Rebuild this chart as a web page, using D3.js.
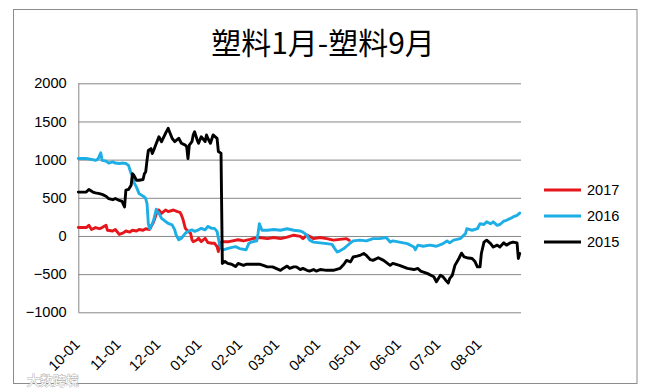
<!DOCTYPE html>
<html><head><meta charset="utf-8">
<script src="https://cdn.jsdelivr.net/npm/d3@7/dist/d3.min.js"></script>
<style>body{margin:0;background:#fff}svg{display:block}</style>
</head><body><svg id="c" width="665" height="391"></svg>
<script>
const chartTitle = "塑料1月-塑料9月";
const seriesNames = ["2017", "2016", "2015"];
const seriesColors = ["#E5161C", "#1DAEE5", "#000000"];
const yTicks = [-1000, -500, 0, 500, 1000, 1500, 2000];
const xTickLabels = ["10-01","11-01","12-01","01-01","02-01","03-01","04-01","05-01","06-01","07-01","08-01"];
const xDomain = ["10-01", "09-01"];
const watermark = "大数跨境";

const s2017 = [["10-01",110],["10-07",110],["10-09",140],["10-11",85],["10-14",110],["10-17",95],["10-19",110],["10-22",140],["10-23",75],["10-27",65],["10-29",85],["11-01",20],["11-04",40],["11-06",65],["11-09",50],["11-11",75],["11-14",65],["11-16",85],["11-19",75],["11-21",95],["11-24",85],["11-25",120],["11-27",185],["11-30",335],["12-01",340],["12-03",295],["12-06",340],["12-08",320],["12-12",340],["12-15",320],["12-17",310],["12-18",275],["12-19",230],["12-21",100],["12-22",80],["12-25",35],["12-26",-50],["12-27",-75],["12-30",-50],["12-31",-30],["01-02",-75],["01-05",-30],["01-07",-85],["01-10",-95],["01-12",-95],["01-14",-140],["01-15",-205],["01-16",-95],["01-18",-75],["01-23",-75],["01-30",-50],["02-03",-65],["02-08",-45],["02-10",-35],["02-15",-20],["02-21",-35],["02-26",-20],["03-03",-35],["03-08",-15],["03-13",10],["03-18",-5],["03-20",-35],["03-23",10],["03-25",-5],["03-28",-35],["04-02",-20],["04-07",-35],["04-12",-55],["04-17",-45],["04-22",-35],["04-24",-55]];

const s2016 = [["10-01",1015],["10-07",1015],["10-12",1000],["10-14",990],["10-16",1010],["10-18",1090],["10-19",990],["10-22",980],["10-24",955],["10-27",970],["10-29",955],["11-01",950],["11-04",955],["11-06",950],["11-08",925],["11-10",815],["11-11",795],["11-12",705],["11-14",640],["11-16",555],["11-20",510],["11-21",490],["11-22",425],["11-23",160],["11-24",95],["11-26",160],["11-27",205],["11-29",350],["11-30",310],["12-01",300],["12-03",230],["12-06",190],["12-08",165],["12-11",145],["12-13",80],["12-14",15],["12-16",-50],["12-18",-30],["12-21",35],["12-23",60],["12-26",80],["12-28",60],["12-31",80],["01-02",100],["01-05",80],["01-07",125],["01-10",100],["01-12",100],["01-14",60],["01-15",-30],["01-16",-120],["01-18",-185],["01-23",-160],["01-28",-140],["01-31",-165],["02-05",-180],["02-07",-100],["02-09",-80],["02-13",-65],["02-14",30],["02-15",160],["02-17",75],["02-21",75],["02-26",85],["03-03",75],["03-08",95],["03-13",75],["03-18",65],["03-20",50],["03-23",10],["03-25",-55],["03-28",-80],["04-02",-90],["04-07",-100],["04-11",-110],["04-13",-165],["04-15",-210],["04-17",-195],["04-20",-165],["04-22",-135],["04-25",-90],["04-27",-65],["05-02",-55],["05-07",-65],["05-12",-35],["05-17",-35],["05-22",-20],["05-25",-80],["05-27",-65],["06-01",-80],["06-07",-100],["06-12",-145],["06-13",-180],["06-15",-120],["06-19",-135],["06-24",-120],["06-29",-135],["07-04",-100],["07-07",-65],["07-09",-90],["07-12",-55],["07-17",-35],["07-21",30],["07-22",95],["07-26",75],["07-30",95],["08-01",160],["08-04",150],["08-06",185],["08-09",160],["08-11",185],["08-14",140],["08-16",150],["08-19",195],["08-21",205],["08-24",230],["08-26",250],["08-29",270],["08-31",300]];

const s2015 = [["10-01",575],["10-07",575],["10-09",610],["10-12",575],["10-14",565],["10-17",555],["10-19",545],["10-22",520],["10-24",490],["10-27",475],["10-29",490],["11-01",465],["11-03",455],["11-05",380],["11-06",600],["11-08",610],["11-10",665],["11-11",815],["11-12",795],["11-14",730],["11-16",730],["11-19",740],["11-20",815],["11-21",840],["11-22",990],["11-23",1120],["11-25",1145],["11-26",1080],["11-27",1120],["11-29",1210],["12-01",1300],["12-03",1235],["12-06",1345],["12-08",1410],["12-09",1365],["12-11",1280],["12-13",1235],["12-16",1280],["12-18",1215],["12-21",1190],["12-22",1170],["12-23",1015],["12-24",1190],["12-26",1235],["12-27",1325],["12-28",1365],["12-30",1255],["12-31",1214],["01-02",1300],["01-05",1237],["01-06",1323],["01-07",1280],["01-09",1214],["01-11",1323],["01-14",1280],["01-15",1105],["01-17",1085],["01-18",-360],["01-20",-335],["01-22",-360],["01-25",-370],["01-28",-400],["01-30",-360],["02-03",-385],["02-05",-370],["02-10",-370],["02-15",-370],["02-18",-385],["02-21",-405],["02-25",-405],["03-03",-450],["03-05",-425],["03-08",-395],["03-10",-425],["03-13",-405],["03-15",-405],["03-18",-440],["03-20",-425],["03-23",-450],["03-25",-460],["03-28",-440],["03-30",-460],["04-02",-440],["04-07",-450],["04-12",-450],["04-17",-425],["04-20",-370],["04-22",-320],["04-25",-340],["04-27",-275],["04-30",-265],["05-02",-255],["05-05",-230],["05-07",-255],["05-10",-310],["05-12",-320],["05-16",-285],["05-20",-320],["05-25",-385],["05-27",-360],["06-01",-385],["06-07",-425],["06-12",-440],["06-15",-425],["06-17",-460],["06-22",-490],["06-27",-535],["06-29",-600],["07-02",-515],["07-04",-535],["07-06",-580],["07-08",-615],["07-09",-560],["07-11",-515],["07-13",-385],["07-16",-295],["07-18",-225],["07-20",-275],["07-22",-285],["07-26",-295],["07-28",-330],["07-30",-405],["08-01",-405],["08-02",-230],["08-04",-80],["08-06",-55],["08-09",-100],["08-11",-145],["08-14",-120],["08-16",-145],["08-19",-90],["08-21",-120],["08-24",-90],["08-26",-80],["08-29",-90],["08-30",-295],["08-31",-230]];

const seriesData = [s2017, s2016, s2015];

function parseMD(md) {
  const [m, d] = md.split("-").map(Number);
  return new Date(m >= 10 ? 2000 : 2001, m - 1, d);
}

const svg = d3.select("#c");
const FONT = "'Liberation Sans', Arial, sans-serif";
const plot = {left: 78.3, right: 521, top: 83.3, bottom: 312.3};

// outer frame
svg.append("rect").attr("x", 13.5).attr("y", 9.5).attr("width", 623.5).attr("height", 374)
  .attr("fill", "#fff").attr("stroke", "#8c8c8c").attr("stroke-width", 1);

const x = d3.scaleTime().domain(xDomain.map(parseMD)).range([plot.left, plot.right]);
const y = d3.scaleLinear().domain([d3.min(yTicks), d3.max(yTicks)]).range([plot.bottom, plot.top]);

// title
svg.append("text").attr("x", 323).attr("y", 54).attr("text-anchor", "middle")
  .attr("font-family", "'Noto Sans CJK SC', sans-serif").attr("font-size", 30)
  .attr("fill", "#000").text(chartTitle);

// y axis with gridlines
const yAxis = svg.append("g").attr("transform", `translate(${plot.left},0)`)
  .call(d3.axisLeft(y).tickValues(yTicks).tickSize(-(plot.right - plot.left)).tickPadding(11.6).tickFormat(d3.format("d")));
yAxis.select(".domain").attr("stroke", "#878787").attr("d", `M0.5,${plot.top}V${plot.bottom}`);
yAxis.selectAll(".tick line").attr("stroke", "#878787").attr("stroke-width", 1);
yAxis.selectAll(".tick text").attr("font-family", FONT).attr("font-size", 14.6).attr("fill", "#000");

// x axis labels
const xAxis = svg.append("g").attr("transform", `translate(0,${plot.bottom})`)
  .call(d3.axisBottom(x).tickValues(xTickLabels.map(parseMD)).tickSize(0).tickFormat(d3.timeFormat("%m-%d")));
xAxis.select(".domain").remove();
xAxis.selectAll(".tick text")
  .attr("font-family", FONT).attr("font-size", 14.6).attr("fill", "#000")
  .attr("text-anchor", "end").attr("dy", 0).attr("y", 0)
  .attr("transform", "translate(2,33) rotate(-45)");

// lines
const line = d3.line().x(d => x(parseMD(d[0]))).y(d => y(d[1]));
seriesData.forEach((s, i) => {
  svg.append("path").datum(s).attr("d", line).attr("fill", "none")
    .attr("stroke", seriesColors[i]).attr("stroke-width", 2.9)
    .attr("stroke-linejoin", "round").attr("stroke-linecap", "round");
});

// legend
const legendY = [190, 216, 242];
seriesNames.forEach((n, i) => {
  const g = svg.append("g").attr("transform", `translate(544,${legendY[i]})`);
  g.append("line").attr("x1", 0).attr("x2", 37).attr("y1", 0).attr("y2", 0)
    .attr("stroke", seriesColors[i]).attr("stroke-width", 2.9);
  g.append("text").attr("x", 43).attr("y", 0).attr("dy", "0.36em")
    .attr("font-family", FONT).attr("font-size", 14.6).attr("fill", "#000").text(n);
});

// watermark
svg.append("text").attr("x", 27).attr("y", 385).attr("font-family", "'Noto Sans CJK SC', sans-serif")
  .attr("font-size", 13).attr("fill", "#fff").attr("stroke", "#b4b4b4").attr("stroke-width", 1)
  .attr("paint-order", "stroke").text(watermark);
</script>
</body></html>
